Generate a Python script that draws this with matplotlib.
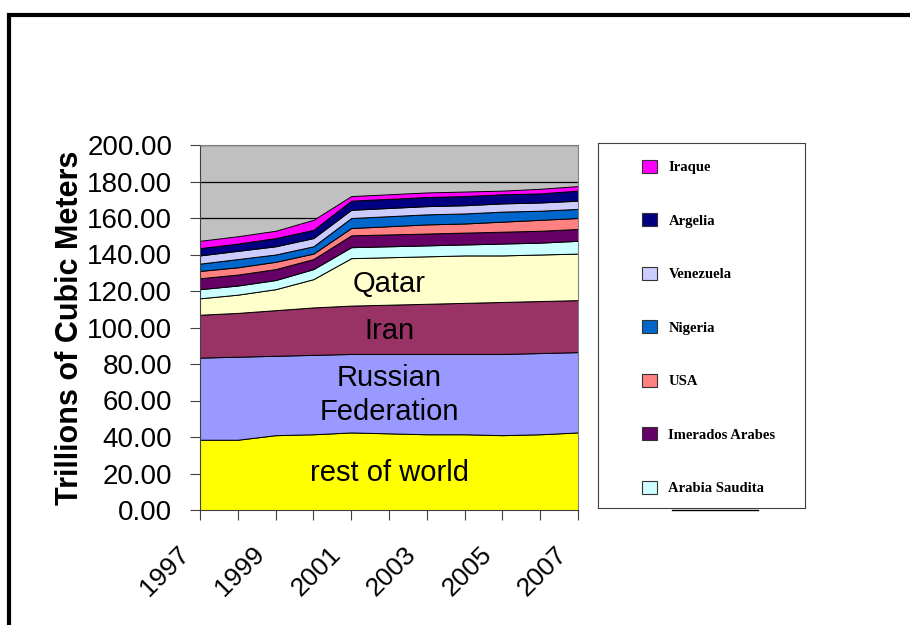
import matplotlib
matplotlib.use('Agg')
from matplotlib import pyplot as plt
from matplotlib.patches import Rectangle, Patch
from matplotlib.lines import Line2D
from matplotlib.transforms import ScaledTranslation

# anos e valores (trilhoes de m3)
years = [1997, 1998, 1999, 2000, 2001, 2002, 2003, 2004, 2005, 2006, 2007]
rest_of_world = [38.5, 38.5, 41, 41.5, 42.5, 42, 41.5, 41.5, 41, 41.5, 42.5]
russia = [45, 45.5, 43.5, 43.5, 43, 43.5, 44, 44, 44.5, 44.5, 44]
iran = [23.5, 24, 25, 26, 26.5, 27, 27.5, 28, 28.5, 28.5, 28.5]
qatar = [9, 10, 11.5, 15.5, 26, 26, 26, 26, 25.5, 25.5, 25.5]
arabia_saudita = [5, 5, 5, 5.5, 6, 6, 6, 6, 6.5, 6.5, 7]
imerados_arabes = [6, 6, 6, 5.5, 6.5, 6.5, 6.5, 6.5, 6.5, 6.5, 6.5]
usa = [4, 4, 4, 3, 4, 4.5, 5, 5, 5.5, 6, 6]
nigeria = [4, 4.5, 4, 4, 5.5, 5.5, 5.5, 5.5, 5.5, 5, 5]
venezuela = [4.5, 4.5, 4.5, 4.5, 4.5, 4.5, 4.5, 4.5, 4.5, 4.5, 4.5]
argelia = [4, 4, 4.5, 4.5, 5, 5, 5, 5, 5, 5, 5.5]
iraque = [4, 4, 4, 5.5, 2.5, 2.5, 2.5, 2.5, 2, 2.5, 2.5]

series = [rest_of_world, russia, iran, qatar, arabia_saudita, imerados_arabes,
          usa, nigeria, venezuela, argelia, iraque]
colors = ['#FFFF00', '#9999FF', '#993366', '#FFFFCC', '#CCFFFF', '#660066',
          '#FF8080', '#0066CC', '#CCCCFF', '#000080', '#FF00FF']

legend_labels = ['Iraque', 'Argelia', 'Venezuela', 'Nigeria', 'USA',
                 'Imerados Arabes', 'Arabia Saudita']
legend_colors = ['#FF00FF', '#000080', '#CCCCFF', '#0066CC', '#FF8080',
                 '#660066', '#CCFFFF']

plt.rcParams['font.family'] = ['Liberation Sans', 'DejaVu Sans']

fig = plt.figure(figsize=(9.1, 6.25), dpi=100)
ax = fig.add_axes([200/910, 1-510/625, 378/910, 365/625])

ax.set_facecolor('#C0C0C0')
ax.stackplot(years, *series, colors=colors, edgecolor='black', linewidth=0.7)

ax.set_xlim(1997, 2007)
ax.set_ylim(0, 200)
ax.set_yticks(range(0, 201, 20))
ax.set_yticklabels(['%.2f' % v for v in range(0, 201, 20)], fontsize=20)
ax.set_xticks(years)
ax.set_xticklabels([str(y) if y % 2 == 1 else '' for y in years],
                   fontsize=19, rotation=45, ha='right', rotation_mode='anchor')
ax.tick_params(axis='both', direction='out', length=7, color='#404040')
ax.tick_params(axis='y', pad=13)
ax.tick_params(axis='x', pad=8)
# desloca os anos um pouco para a esquerda e para baixo
shift = ScaledTranslation(-0.23, -0.11, fig.dpi_scale_trans)
for lbl in ax.get_xticklabels():
    lbl.set_transform(lbl.get_transform() + shift)
ax.grid(axis='y', color='black', linewidth=0.9)
ax.set_axisbelow(True)
for side in ['top', 'right']:
    ax.spines[side].set_color('#808080')
for side in ['left', 'bottom']:
    ax.spines[side].set_color('#404040')

ax.set_ylabel('Trillions of Cubic Meters', fontsize=22, fontweight='bold', labelpad=1.5)

# rotulos dentro das areas
ax.text(2002.0, 124, 'Qatar', fontsize=21, ha='center', va='center')
ax.text(2002.0, 98, 'Iran', fontsize=21, ha='center', va='center')
ax.text(2002.0, 63, 'Russian\nFederation', fontsize=21, ha='center', va='center',
        linespacing=1.25)
ax.text(2002.0, 20.5, 'rest of world', fontsize=21, ha='center', va='center')

# caixa da legenda
ax_leg = fig.add_axes([598/910, 1-508/625, 207/910, 365/625])
ax_leg.set_xticks([])
ax_leg.set_yticks([])
for s in ax_leg.spines.values():
    s.set_color('#404040')
handles = [Patch(facecolor=c, edgecolor='#333333', linewidth=0.8) for c in legend_colors]
ax_leg.legend(handles, legend_labels, loc='upper left', bbox_to_anchor=(0.15, 0.99),
              frameon=False, handlelength=1.0, handleheight=1.0, handletextpad=0.8,
              labelspacing=2.67,
              prop={'family': 'Liberation Serif', 'weight': 'bold', 'size': 10.5})

# moldura externa
fig.add_artist(Rectangle((9/910, -0.1), 1.2, 1-15/625+0.1, transform=fig.transFigure,
                         fill=False, edgecolor='black', linewidth=3))
fig.add_artist(Line2D([672/910, 758/910], [1-510/625, 1-510/625],
                      color='black', linewidth=1))

fig.savefig('out.png', dpi=100)
